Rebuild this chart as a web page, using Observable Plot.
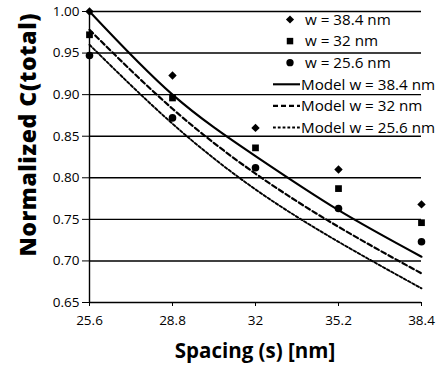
<!DOCTYPE html>
<html><head><meta charset="utf-8">
<script src="https://cdn.jsdelivr.net/npm/d3@7"></script>
<script src="https://cdn.jsdelivr.net/npm/@observablehq/plot@0.6"></script>
<style>
body{margin:0;background:#fff;}
#chart{position:relative;width:442px;height:371px;}
</style>
</head><body><div id="chart"></div>
<script>
const spacing = [25.6, 28.8, 32, 35.2, 38.4];
const yTicks = [0.65, 0.70, 0.75, 0.80, 0.85, 0.90, 0.95, 1.00];
const w384 = [1.000, 0.923, 0.860, 0.810, 0.768];
const w32 = [0.972, 0.896, 0.836, 0.787, 0.746];
const w256 = [0.947, 0.872, 0.812, 0.763, 0.723];
const model384 = [1.000, 0.900, 0.826, 0.761, 0.705];
const model32 = [0.978, 0.883, 0.805, 0.741, 0.685];
const model256 = [0.960, 0.865, 0.786, 0.723, 0.667];
const seriesNames = ["w = 38.4 nm", "w = 32 nm", "w = 25.6 nm"];
const modelNames = ["Model w = 38.4 nm", "Model w = 32 nm", "Model w = 25.6 nm"];
const xTitle = "Spacing (s) [nm]";
const yTitle = "Normalized C(total)";
const symbols = ["diamond2", "square", "circle"];
const dashes = ["none", "5,3", "2.8,2"];
const widths = [2.1, 2.2, 1.9];

const pts = [w384, w32, w256].flatMap((arr, i) => arr.map((v, j) => ({x: spacing[j], y: v, s: i})));
const models = [model384, model32, model256].map(arr => arr.map((v, j) => ({x: spacing[j], y: v})));

const font = "'Open Sans', sans-serif";
const plot = Plot.plot({
  width: 442, height: 371,
  marginLeft: 89, marginRight: 21, marginTop: 11, marginBottom: 69,
  style: {fontFamily: font, fontSize: "13.5px", color: "#000", background: "#fff"},
  x: {domain: [25.6, 38.4], label: null},
  y: {domain: [0.65, 1.0], label: null},
  marks: [
    Plot.ruleY(yTicks, {stroke: "#000", strokeWidth: 1.4}),
    Plot.ruleX([25.6], {stroke: "#000", strokeWidth: 1.4}),
    Plot.axisX({ticks: spacing, tickFormat: d => String(d), tickSize: 4, tickPadding: 9, stroke: "#000", label: null}),
    Plot.axisY({ticks: yTicks, tickFormat: d3.format(".2f"), tickSize: 7, tickPadding: 3, label: null}),
    ...models.map((m, i) => Plot.line(m, {x: "x", y: "y", curve: "natural", stroke: "#000", strokeWidth: widths[i], strokeDasharray: dashes[i]})),
    Plot.dot(pts, {x: "x", y: "y", symbol: d => symbols[d.s], fill: "#000", r: 3.8})
  ]
});
document.getElementById("chart").appendChild(plot);

const svg = d3.select(plot);
// axis titles
svg.append("text").attr("transform", "translate(36,135) rotate(-90)")
  .attr("text-anchor", "middle").attr("font-family", font).attr("font-weight", "800")
  .attr("font-size", 23).attr("textLength", 243).attr("lengthAdjust", "spacing").attr("fill", "#000").text(yTitle);
svg.append("text").attr("x", 255).attr("y", 358)
  .attr("text-anchor", "middle").attr("font-family", font).attr("font-weight", "bold")
  .attr("font-size", 20.5).attr("fill", "#000").text(xTitle);

// legend inside the plot area
const lg = svg.append("g").attr("font-family", font).attr("font-size", 15.2).attr("fill", "#000").attr("text-anchor", "start");
const rowY = i => 19.5 + i * 21.6;
const symMap = {diamond2: d3.symbolDiamond2, square: d3.symbolSquare, circle: d3.symbolCircle};
seriesNames.forEach((name, i) => {
  lg.append("path").attr("d", d3.symbol(symMap[symbols[i]], 42)()).attr("transform", `translate(290,${rowY(i)})`).attr("fill", "#000");
  lg.append("text").attr("x", 305).attr("y", rowY(i)).attr("dy", "0.35em").text(name);
});
modelNames.forEach((name, i) => {
  const y = rowY(i + 3);
  lg.append("line").attr("x1", 273).attr("x2", 300).attr("y1", y).attr("y2", y).attr("stroke", "#000").attr("stroke-width", widths[i]).attr("stroke-dasharray", dashes[i]);
  lg.append("text").attr("x", 301).attr("y", y).attr("dy", "0.35em").text(name);
});
</script></body></html>
